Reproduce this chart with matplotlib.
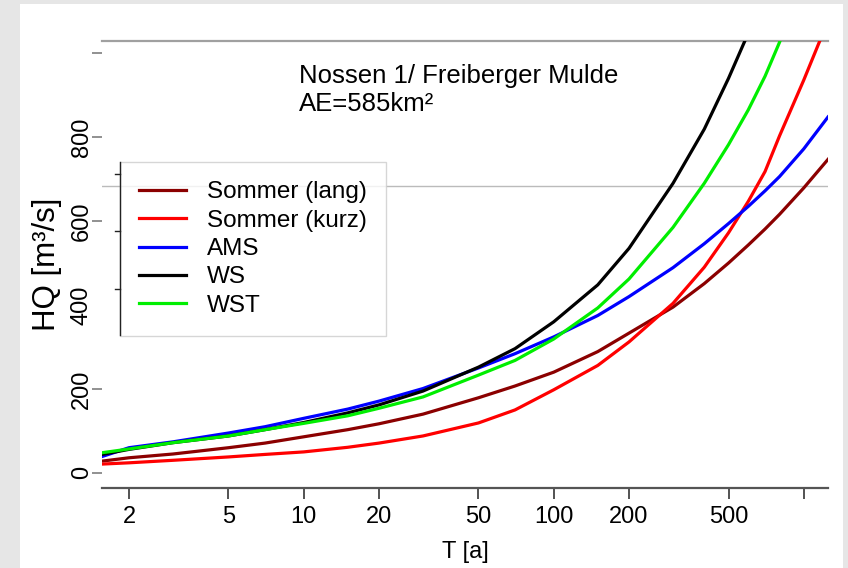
import matplotlib
matplotlib.use("Agg")
import matplotlib.pyplot as plt
from matplotlib.patches import Rectangle
from matplotlib.lines import Line2D

plt.rcParams['font.family'] = ['Liberation Sans', 'DejaVu Sans']

# Return periods T [a]
T = [1.56, 2, 3, 5, 7, 10, 15, 20, 30, 50, 70, 100, 150, 200, 300, 400, 500,
     600, 700, 800, 1000, 1250]

# HQ [m3/s] per series (values above ~1030 are off the top)
sommer_lang = [28, 36, 45, 60, 71, 86, 103, 117, 140, 179, 207, 240, 289, 333,
               395, 451, 500, 543, 581, 616, 679, 747]
sommer_kurz = [21, 24, 30, 38, 44, 50, 61, 71, 88, 119, 150, 198, 256, 312,
               404, 490, 572, 647, 718, 803, 936, 1077]
ams         = [39, 60, 74, 95, 110, 130, 152, 171, 201, 250, 284, 324, 375, 420,
               489, 546, 594, 635, 672, 706, 772, 848]
ws          = [44, 56, 72, 88, 103, 120, 143, 162, 195, 252, 296, 360, 448, 535,
               690, 819, 940, 1048, 1160, 1270, 1480, 1700]
wst         = [48, 57, 72, 88, 103, 118, 136, 154, 181, 233, 268, 319, 393, 462,
               585, 690, 782, 865, 945, 1026, 1180, 1350]

series = [
    ("Sommer (lang)", sommer_lang, "#8b0000"),
    ("Sommer (kurz)", sommer_kurz, "#ff0000"),
    ("AMS", ams, "#0000ff"),
    ("WS", ws, "#000000"),
    ("WST", wst, "#00ee00"),
]

yticks = [0, 200, 400, 600, 800, 1000]
yticklabels = ["0", "200", "400", "600", "800", ""]
xticks = [2, 5, 10, 20, 50, 100, 200, 500, 1000]
xticklabels = ["2", "5", "10", "20", "50", "100", "200", "500", ""]

W, H = 848, 568
fig = plt.figure(figsize=(W / 100, H / 100), dpi=100)
fig.patch.set_facecolor('#e6e6e6')
fig.add_artist(Rectangle((20 / W, 0), (843 - 20) / W, (H - 4) / H,
                         transform=fig.transFigure, facecolor='white',
                         edgecolor='none', zorder=0))

ax = fig.add_axes([102 / W, 1 - 488 / H, (828 - 102) / W, (488 - 41) / H])
ax.patch.set_alpha(0)
ax.set_xscale('log')
ax.set_xlim(1.56, 1250)
ax.set_ylim(-36, 1029)

# gray reference line
ax.axhline(683, color='#bbbbbb', lw=1.0, zorder=1)

handles = []
for name, vals, col in series:
    h, = ax.plot(T, vals, color=col, lw=2.3, label=name, zorder=3,
                 solid_joinstyle='round')
    handles.append(h)

for s in ['left', 'right']:
    ax.spines[s].set_visible(False)
ax.spines['top'].set_color('#a0a0a0')
ax.spines['top'].set_linewidth(1.6)
ax.spines['bottom'].set_color('#555555')
ax.spines['bottom'].set_linewidth(1.6)

ax.set_xticks(xticks)
ax.set_xticklabels(xticklabels, fontsize=17)
ax.xaxis.set_minor_locator(matplotlib.ticker.NullLocator())
ax.tick_params(axis='x', length=8, width=1.3, color='#444444', pad=5)
for t in ax.xaxis.get_major_ticks():
    if abs(t.get_loc() - 5) < 1e-6:
        t.tick1line.set_color('#cccccc')

ax.set_yticks(yticks)
ax.set_yticklabels(yticklabels, fontsize=17, rotation=90, va='center')
ax.tick_params(axis='y', length=7, width=1.3, color='#888888', pad=-0.5)
for t in ax.yaxis.get_major_ticks():
    loc = t.get_loc()
    if abs(loc - 400) < 1e-6:
        t.tick1line.set_visible(False)
    if abs(loc - 1000) < 1e-6:
        t.tick1line.set_color('#d0d0d0')

ax.set_xlabel("T [a]", fontsize=17, labelpad=9)
ax.set_ylabel("HQ [m³/s]", fontsize=22.5, va='center')
ax.yaxis.set_label_coords((47 - 102) / (828 - 102), 0.5)

ax.text(299 / W, 1 - 90 / H, "Nossen 1/ Freiberger Mulde\nAE=585km²",
        transform=fig.transFigure, fontsize=18.5, ha='left', va='center',
        linespacing=1.2)

leg = ax.legend(handles=handles, loc='upper left',
                bbox_to_anchor=(120 / W, 1 - 162 / H), bbox_transform=fig.transFigure,
                fontsize=17.5, frameon=True, fancybox=False, borderaxespad=0,
                handlelength=1.9, handletextpad=0.86, labelspacing=0.26,
                borderpad=0.8)
leg.get_frame().set_edgecolor('#cccccc')
leg.get_frame().set_linewidth(1.0)
leg.set_zorder(5)
for lh in leg.get_lines():
    lh.set_linewidth(2.3)

# dark left edge of legend box with small ticks
fig.add_artist(Line2D([120 / W, 120 / W], [1 - 162 / H, 1 - 335 / H],
                      transform=fig.transFigure, color='#222222', lw=1.0, zorder=6))
for yy in [174, 231, 289]:
    fig.add_artist(Line2D([115 / W, 120 / W], [1 - yy / H, 1 - yy / H],
                          transform=fig.transFigure, color='#222222', lw=1.0, zorder=6))

fig.savefig("out.png", dpi=100, facecolor=fig.get_facecolor())
